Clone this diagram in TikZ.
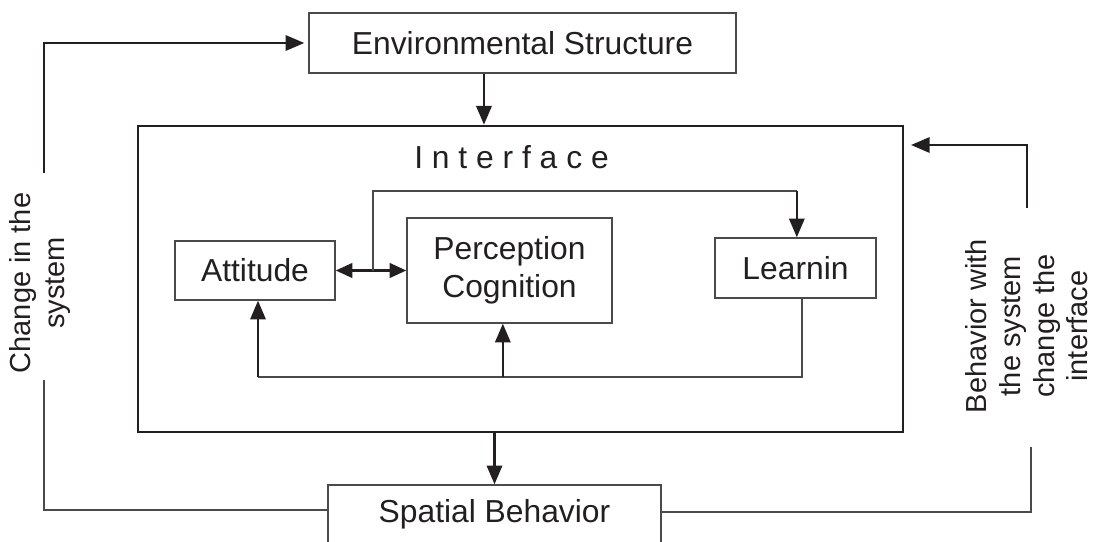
\documentclass[tikz,border=0pt]{standalone}
\usepackage{fontspec}
\setmainfont{Liberation Sans}
\usetikzlibrary{arrows.meta}
\definecolor{ink}{HTML}{231F20}
\definecolor{edge}{HTML}{4A4A4A}
\begin{document}
\begin{tikzpicture}[x=0.75pt,y=-0.75pt,
  box/.style={draw=edge, line width=1.1pt, inner sep=0pt, text=ink, align=center,
    font=\fontsize{23.85}{28.5}\selectfont},
  lab/.style={inner sep=0pt, text=ink, align=center, font=\fontsize{21.75}{25.3}\selectfont},
  thinline/.style={draw=edge, line width=1.1pt},
  arr/.style={draw=ink, line width=1.7pt, -{Triangle[length=14pt,width=11.5pt]}},
  dblarr/.style={draw=ink, line width=1.7pt, {Triangle[length=12.5pt,width=11pt]}-{Triangle[length=12.5pt,width=11pt]}}]
\useasboundingbox (0,0) rectangle (1093,542);

% nodes
\node[box, minimum width=320.25pt, minimum height=45pt] (env) at (522.5,43) {Environmental Structure};
\node[box, draw=ink, line width=2pt, minimum width=573.75pt, minimum height=229.5pt] (iface) at (520.5,279) {};
\node[lab, font=\fontsize{23.85}{28.5}\selectfont] (ititle) at (511.5,157) {I n t e r f a c e};
\node[box, minimum width=120pt, minimum height=44.25pt] (att) at (255,270.5) {Attitude};
\node[box, minimum width=153.75pt, minimum height=78.75pt] (per) at (509.5,270.5) {Perception\\Cognition};
\node[box, minimum width=120.75pt, minimum height=45pt] (lrn) at (795.5,268) {Learnin};
\node[box, minimum width=249.75pt, minimum height=43.5pt] (spa) at (494.5,514) {Spatial Behavior};
\node[lab, rotate=90] (chg) at (40,283) {Change in the\\system};
\node[lab, rotate=90] (beh) at (1027,326) {Behavior with\\the system\\change the\\interface};

% coordinates
\coordinate (L1) at (44,173);
\coordinate (L2) at (44,380);
\coordinate (R1) at (1031,447);
\coordinate (R2) at (1027,208);
\coordinate (R3) at (1027,145);
\coordinate (J) at (373,270.5);
\coordinate (T1) at (373,191);
\coordinate (B) at (0,377);

% outer connectors
\draw[arr] ([xshift=-28.9pt]env.south) -- ([xshift=-28.9pt]env.south |- iface.north);
\draw[arr] (spa.north |- iface.south) -- (spa.north);
\draw[arr] (L1) |- ([xshift=-3pt]env.west);
\draw[thinline] (L2) |- ([yshift=3pt]spa.west);
\draw[thinline] (R1) |- ([yshift=1.5pt]spa.east);
\draw[arr] (R2) -- (R3) -- ([xshift=5pt]iface.east |- R3);

% inner connectors
\draw[dblarr] (att.east) -- (per.west);
\draw[thinline] (J) -- (T1) -- ([xshift=1pt]lrn.north |- T1);
\draw[arr] ([xshift=1pt]lrn.north |- T1) -- ([xshift=1pt]lrn.north);
\draw[thinline] ([xshift=4.9pt]lrn.south) |- ([xshift=2.25pt]att.south |- B);
\draw[arr] ([xshift=2.25pt]att.south |- B) -- ([xshift=2.25pt]att.south);
\draw[arr] ([xshift=-5pt]per.south |- B) -- ([xshift=-5pt]per.south);
\end{tikzpicture}
\end{document}
